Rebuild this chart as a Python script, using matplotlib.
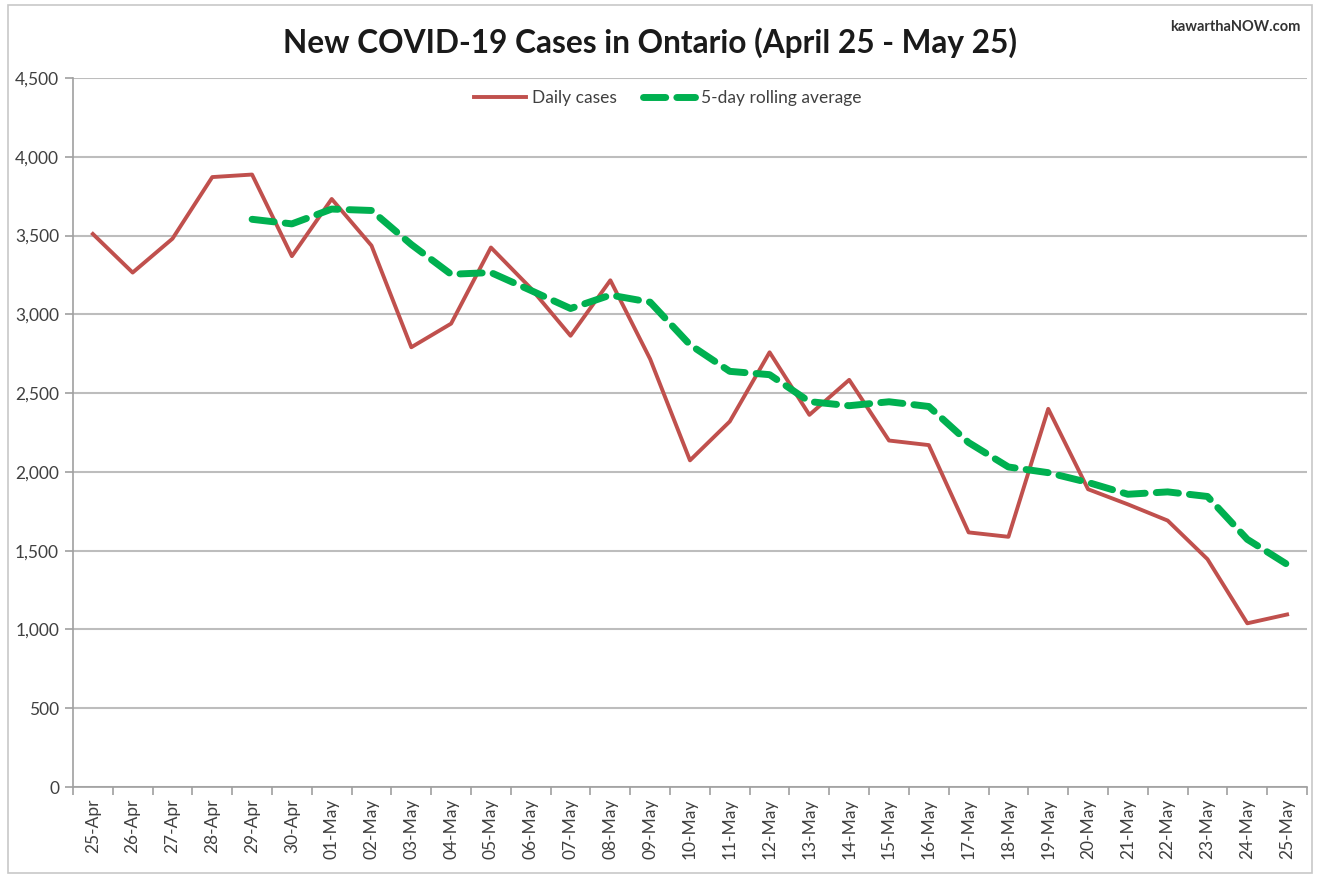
import matplotlib
matplotlib.use('Agg')
import matplotlib.pyplot as plt
from matplotlib.patches import Rectangle
from matplotlib.ticker import FuncFormatter, MultipleLocator

plt.rcParams['font.family'] = ['Lato', 'DejaVu Sans']

# Data
dates = ["25-Apr", "26-Apr", "27-Apr", "28-Apr", "29-Apr", "30-Apr",
         "01-May", "02-May", "03-May", "04-May", "05-May", "06-May",
         "07-May", "08-May", "09-May", "10-May", "11-May", "12-May",
         "13-May", "14-May", "15-May", "16-May", "17-May", "18-May",
         "19-May", "20-May", "21-May", "22-May", "23-May", "24-May", "25-May"]
daily_cases = [3510, 3265, 3480, 3871, 3887, 3369, 3732, 3436, 2791, 2941,
               3424, 3166, 2864, 3216, 2716, 2073, 2320, 2759, 2362, 2584,
               2199, 2170, 1616, 1588, 2400, 1890, 1794, 1691, 1446, 1039, 1095]
# rolling average begins on 29-Apr
avg_dates = dates[4:]
rolling_avg = [3603, 3574, 3668, 3659, 3443, 3254, 3265, 3152, 3037, 3122,
               3077, 2807, 2638, 2617, 2446, 2420, 2445, 2415, 2186, 2031,
               1995, 1933, 1858, 1873, 1844, 1572, 1413]

RED = "#C0504D"
GREEN = "#00B050"
GRID = "#BDBDBD"
TEXT = "#404040"

fig = plt.figure(figsize=(13.19, 8.77), dpi=100)
fig.patches.append(Rectangle((0.006, 0.005), 0.989, 0.989, transform=fig.transFigure,
                             fill=False, edgecolor="#C8C8C8", lw=1.2))

ax = fig.add_axes([0.0553, 0.1026, 0.9356, 0.8085])
x = list(range(len(dates)))
x_avg = [dates.index(d) for d in avg_dates]

ax.plot(x, daily_cases, color=RED, lw=2.8, label="Daily cases", zorder=3)
ax.plot(x_avg, rolling_avg, color=GREEN, lw=5, dashes=(3.2, 1.6),
        dash_capstyle='round', label="5-day rolling average", zorder=4)

ax.set_xlim(-0.5, len(dates) - 0.5)
ax.set_ylim(0, 4500)
ax.yaxis.set_major_locator(MultipleLocator(500))
ax.yaxis.set_major_formatter(FuncFormatter(lambda v, p: f"{int(v):,}"))
ax.grid(axis='y', color=GRID, lw=1.5)
ax.set_axisbelow(True)

ax.set_xticks(x)
ax.set_xticklabels(dates, rotation=90, fontsize=12.5, color=TEXT)
ax.set_xticks([i - 0.5 for i in range(len(dates) + 1)], minor=True)
ax.tick_params(axis='x', which='major', length=0, pad=8)
ax.tick_params(axis='x', which='minor', length=6, color="#A0A0A0", width=1.2)
ax.tick_params(axis='y', length=6, color="#A0A0A0", width=1.2, labelsize=12.5,
               labelcolor=TEXT, pad=4)

for s in ("top", "right"):
    ax.spines[s].set_visible(False)
for s in ("left", "bottom"):
    ax.spines[s].set_color("#A0A0A0")
    ax.spines[s].set_linewidth(1.2)

leg = ax.legend(loc="upper center", bbox_to_anchor=(0.482, 1.0), ncol=2, frameon=False,
                fontsize=12.5, handlelength=3.0, columnspacing=1.5, handletextpad=0.35,
                borderaxespad=0.3)
for t in leg.get_texts():
    t.set_color(TEXT)

fig.text(0.4928, 0.951, "New COVID-19 Cases in Ontario (April 25 - May 25)",
         ha="center", va="center", fontsize=22.8, fontweight="bold", color="#1a1a1a")
fig.text(0.986, 0.969, "kawarthaNOW.com", ha="right", va="center",
         fontsize=10.5, fontweight="bold", color="#333333")

fig.savefig("out.png", dpi=100)
